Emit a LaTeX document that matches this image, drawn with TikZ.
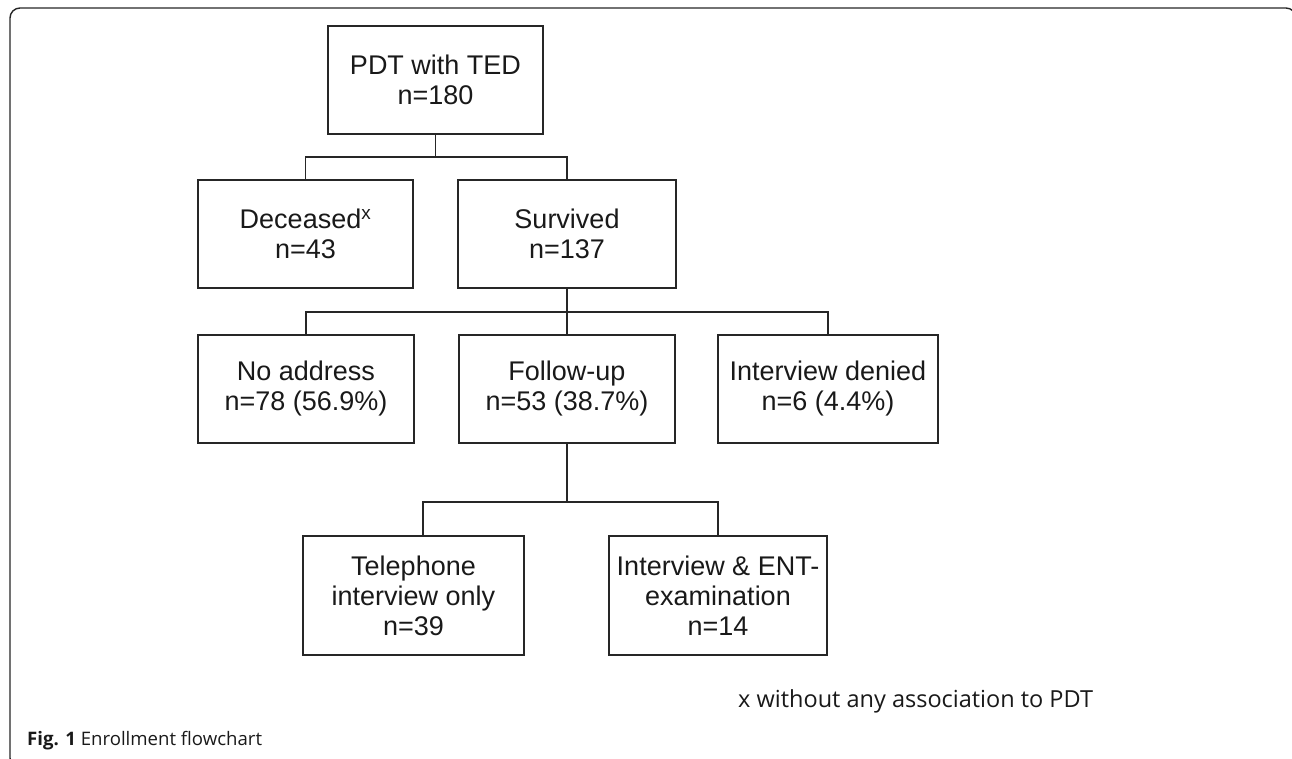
\documentclass[tikz,border=0pt]{standalone}
\usepackage{fontspec}
\setmainfont{Liberation Sans}
\newfontfamily\capfont{Open Sans}
\begin{document}
\begin{tikzpicture}[x=1pt,y=-1pt,
  box/.style={draw=black!85,line width=1.6pt,rectangle,align=center,inner sep=0pt,
    font=\fontsize{27}{30}\selectfont,text=black!90},
  conn/.style={draw=black!85,line width=1.6pt}]
\useasboundingbox (0,0) rectangle (1292,759);
\begin{scope}
\clip (0,0) rectangle (1292,759);
\draw[black!85,line width=1.4pt,rounded corners=10pt] (10,8) rectangle (1296,768);
\end{scope}
% nodes
\node[box,minimum width=215pt,minimum height=108pt] (top) at (435.5,80) {PDT with TED\\n=180};
\node[box,minimum width=215pt,minimum height=108pt] (dec) at (305.5,234) {Deceased\textsuperscript{x}\\n=43};
\node[box,minimum width=218pt,minimum height=108pt] (sur) at (567,234) {Survived\\n=137};
\node[box,minimum width=216pt,minimum height=108pt] (na) at (306,389) {No address\\n=78 (56.9\%)};
\node[box,minimum width=216pt,minimum height=108pt] (fu) at (567,389) {Follow-up\\n=53 (38.7\%)};
\node[box,minimum width=220pt,minimum height=108pt] (den) at (828,389) {Interview denied\\n=6 (4.4\%)};
\node[box,minimum width=221pt,minimum height=119pt] (tel) at (413.5,595.5) {Telephone\\interview only\\n=39};
\node[box,minimum width=218pt,minimum height=119pt] (ent) at (718,595.5) {Interview \& ENT-\\examination\\n=14};
% junction coordinates
\coordinate (b1) at (435.5,157);
\coordinate (b2) at (567,312);
\coordinate (b3) at (567,502);
\coordinate (tc) at (423,536);
% connectors
\draw[conn] (top.south) -- (b1);
\draw[conn] (dec.north) |- (b1) -| (sur.north);
\draw[conn] (sur.south) -- (b2);
\draw[conn] (na.north) |- (b2) -| (den.north);
\draw[conn] (fu.north) -- (b2);
\draw[conn] (fu.south) -- (b3);
\draw[conn] (tc) |- (b3) -| (ent.north);
% footnote and caption
\node[anchor=base west,inner sep=0pt,font=\capfont\fontsize{23.5}{26}\selectfont,text=black!90] (fn) at (738,707) {x without any association to PDT};
\node[anchor=base west,inner sep=0pt,font=\capfont\fontsize{18.6}{21}\selectfont,text=black!90] (cap) at (27,745) {\textbf{Fig. 1} Enrollment flowchart};
\end{tikzpicture}
\end{document}
